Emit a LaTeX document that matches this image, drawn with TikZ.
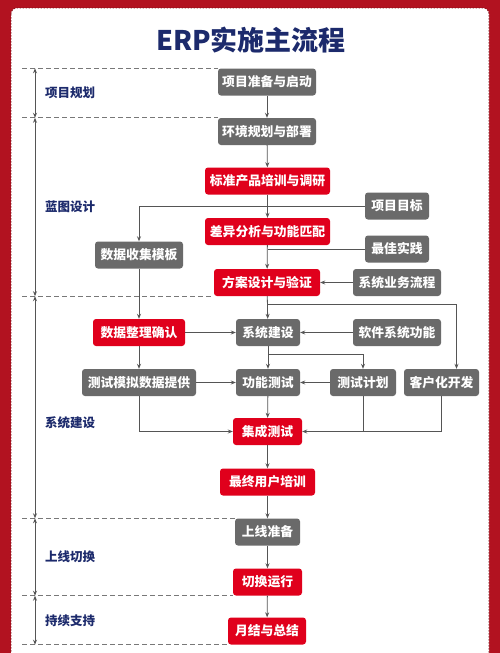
\documentclass[tikz,border=0pt]{standalone}
\usepackage{fontspec}
\setmainfont{Noto Sans CJK SC}
\usepackage{xcolor}
\usepackage{tikz}
\usetikzlibrary{positioning,arrows.meta}

\definecolor{framered}{RGB}{178,18,32}
\definecolor{boxred}{RGB}{224,0,28}
\definecolor{boxgray}{RGB}{106,106,106}
\definecolor{navy}{RGB}{28,42,108}
\definecolor{linegray}{RGB}{85,85,85}
\definecolor{dashgray}{RGB}{120,120,120}

\begin{document}
\begin{tikzpicture}[x=1pt,y=1pt,yscale=-1,
  box/.style={rounded corners=3pt,minimum height=27pt,inner sep=0pt,text=white,font=\fontsize{12.8}{15}\selectfont\bfseries},
  graybox/.style={box,fill=boxgray},
  redbox/.style={box,fill=boxred},
  flow/.style={draw=linegray,line width=0.8pt,-{Stealth[length=5pt,width=4pt]}},
  link/.style={draw=linegray,line width=0.8pt},
  phase/.style={draw=dashgray,line width=0.8pt,dash pattern=on 5pt off 3pt},
  span/.style={draw=linegray,line width=0.8pt,{Stealth[length=5pt,width=4pt]}-{Stealth[length=5pt,width=4pt]}},
  stage/.style={anchor=west,text=navy,inner sep=0pt,font=\fontsize{12.5}{15}\selectfont\bfseries}
]
\useasboundingbox (0,0) rectangle (500,653);

%Frame
\fill[framered] (0,0) rectangle (500,653);
\draw[fill=white,draw=framered!70!black,line width=0.6pt,dash pattern=on 1.5pt off 1.5pt,rounded corners=6pt] (11,8) rectangle (489,670);

% Title
\node[text=navy,font=\fontsize{27}{31}\selectfont\bfseries] (title) at (251,40) {ERP实施主流程};

%Main column
\node[graybox,minimum width=98pt] (prep) at (267,82) {项目准备与启动};
\node[graybox,minimum width=98pt] (env) at (267,131.5) {环境规划与部署};
\node[redbox,minimum width=125pt] (train) at (267.5,181) {标准产品培训与调研};
\node[redbox,minimum width=125pt] (gap) at (267.5,231.5) {差异分析与功能匹配};
\node[redbox,minimum width=106pt] (design) at (267,282.5) {方案设计与验证};
\node[graybox,minimum width=64pt] (build) at (268,332.5) {系统建设};
\node[graybox,minimum width=64pt] (functest) at (268,382.5) {功能测试};
\node[redbox,minimum width=69pt] (integ) at (267.5,431.5) {集成测试};
\node[redbox,minimum width=95pt] (enduser) at (267.5,482) {最终用户培训};
\node[graybox,minimum width=65pt] (golive) at (267.5,532) {上线准备};
\node[redbox,minimum width=69pt] (cutover) at (267.5,582) {切换运行};
\node[redbox,minimum width=78pt] (monthly) at (267,631) {月结与总结};

%Side boxes
\node[graybox,minimum width=64pt] (goal) at (397,206) {项目目标};
\node[graybox,minimum width=64pt] (best) at (397,249) {最佳实践};
\node[graybox,minimum width=88pt] (bizflow) at (397,282.5) {系统业务流程};
\node[graybox,minimum width=88pt] (swfunc) at (397,332.5) {软件系统功能};
\node[graybox,minimum width=88pt] (tmpl) at (139,255) {数据收集模板};
\node[redbox,minimum width=92pt] (clean) at (139,332.5) {数据整理确认};
\node[graybox,minimum width=114pt] (simdata) at (139,382.5) {测试模拟数据提供};
\node[graybox,minimum width=66pt] (plan) at (363,382.5) {测试计划};
\node[graybox,minimum width=75pt] (custom) at (441.5,382.5) {客户化开发};

%Connectors
\draw[flow] (prep) -- (env);
\draw[flow] (env) -- (train);
\draw[flow] (train) -- (gap);
\draw[flow] (goal.west) -| (tmpl.north);
\draw[link] (best.west) -- (best.west -| gap.south);
\draw[flow] (gap) -- (design);
\draw[flow] (bizflow) -- (design);
\draw[flow] (design) -- (build);
\draw[flow] (design.south) ++(0,8) -| ([xshift=15pt]custom.north);
\draw[flow] (tmpl) -- (clean);
\draw[flow] (clean) -- (build);
\draw[flow] (swfunc) -- (build);
\draw[flow] (clean) -- (simdata);
\draw[flow] (build) -- (functest);
\draw[flow] (build.south) ++(0,8) -| (plan.north);
\draw[flow] (simdata) -- (functest);
\draw[flow] (plan) -- (functest);
\draw[flow] (functest) -- (integ);
\draw[flow] (simdata.south) |- (integ.west);
\draw[flow] (plan.south) |- (integ.east);
\draw[link] (custom.south) |- (plan.south |- integ.east);
\draw[flow] (integ) -- (enduser);
\draw[flow] (enduser) -- (golive);
\draw[flow] (golive) -- (cutover);
\draw[flow] (cutover) -- (monthly);

%Stages
\coordinate (edge) at (22,0);
\coordinate (axis) at (35,0);
\draw[phase] (edge |- prep.north west) -- (prep.north west);
\draw[phase] (edge |- env.north west) -- (env.north west);
\draw[phase] (edge |- design.south west) -- (design.south west);
\draw[phase] (edge |- golive.north west) -- (golive.north west);
\draw[phase] (edge |- cutover.south west) -- (cutover.south west);
\draw[phase] (edge |- monthly.south west) -- (monthly.south west);
\draw[span] (axis |- prep.north) -- (axis |- env.north);
\draw[span] (axis |- env.north) -- (axis |- design.south);
\draw[span] (axis |- design.south) -- (axis |- golive.north);
\draw[span] (axis |- golive.north) -- (axis |- cutover.south);
\draw[span] (axis |- cutover.south) -- (axis |- monthly.south);
\node[stage] (plan1) at (45,93) {项目规划};
\node[stage] (plan2) at (45,207) {蓝图设计};
\node[stage] (plan3) at (45,423) {系统建设};
\node[stage] (plan4) at (45,557) {上线切换};
\node[stage] (plan5) at (45,621) {持续支持};

\end{tikzpicture}
\end{document}
